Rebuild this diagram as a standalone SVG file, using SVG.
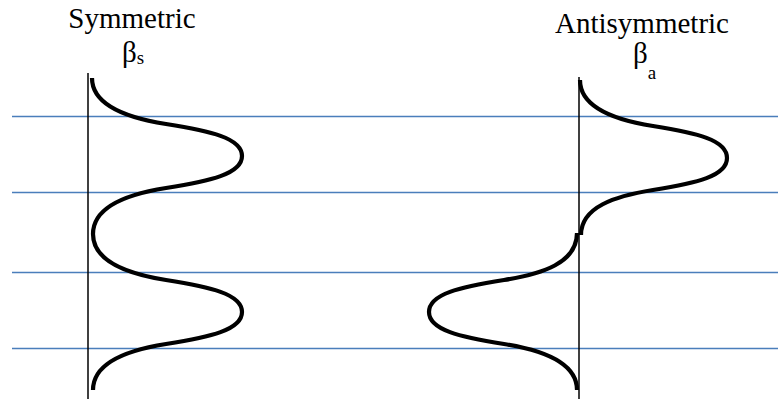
<svg xmlns="http://www.w3.org/2000/svg" width="778" height="405" viewBox="0 0 778 405">
<style>
.lvl{stroke:#4a7ebb;stroke-width:1.5;fill:none}
.axis{stroke:#000;stroke-width:1.5;fill:none}
.wave{stroke:#000;stroke-width:4.2;fill:none;stroke-linecap:butt;stroke-linejoin:round}
.t{font-family:"Liberation Serif","Times New Roman",serif;fill:#000}
</style>
<rect width="778" height="405" fill="#fff"/>
<g id="levels">
<line class="lvl" x1="12" y1="116.5" x2="778" y2="116.5"/>
<line class="lvl" x1="12" y1="192.5" x2="778" y2="192.5"/>
<line class="lvl" x1="12" y1="272.5" x2="778" y2="272.5"/>
<line class="lvl" x1="12" y1="348.5" x2="778" y2="348.5"/>
</g>
<g id="symmetric">
<text class="t" x="132" y="28" font-size="29" text-anchor="middle">Symmetric</text>
<text class="t" x="122" y="62" font-size="29">β<tspan font-size="19" dy="2">s</tspan></text>
<line class="axis" x1="88" y1="73" x2="88" y2="399"/>
<path class="wave" d="M92,78 C92,106 128,118 166,124 C210,131 242,138 242,156 C242,174 210,181 166,188 C128,194 93,206 93,234 C93,262 128,274 166,280 C210,287 242,294 242,312 C242,330 210,337 166,344 C128,350 93,362 93,390"/>
</g>
<g id="antisymmetric">
<text class="t" x="642" y="33" font-size="29" text-anchor="middle">Antisymmetric</text>
<text class="t" x="633" y="63" font-size="29">β<tspan font-size="19" dy="16">a</tspan></text>
<line class="axis" x1="579" y1="77" x2="579" y2="399"/>
<path class="wave" d="M580,80 C580,108 615,120 653,126 C697,133 727,140 727,158 C727,176 697,183 653,190 C615,196 581,207 581,235"/>
<path class="wave" d="M577,233 C577,263 542,274 504,280 C460,287 429,294 429,312 C429,330 460,337 504,344 C542,350 577,362 577,390"/>
</g>
</svg>
